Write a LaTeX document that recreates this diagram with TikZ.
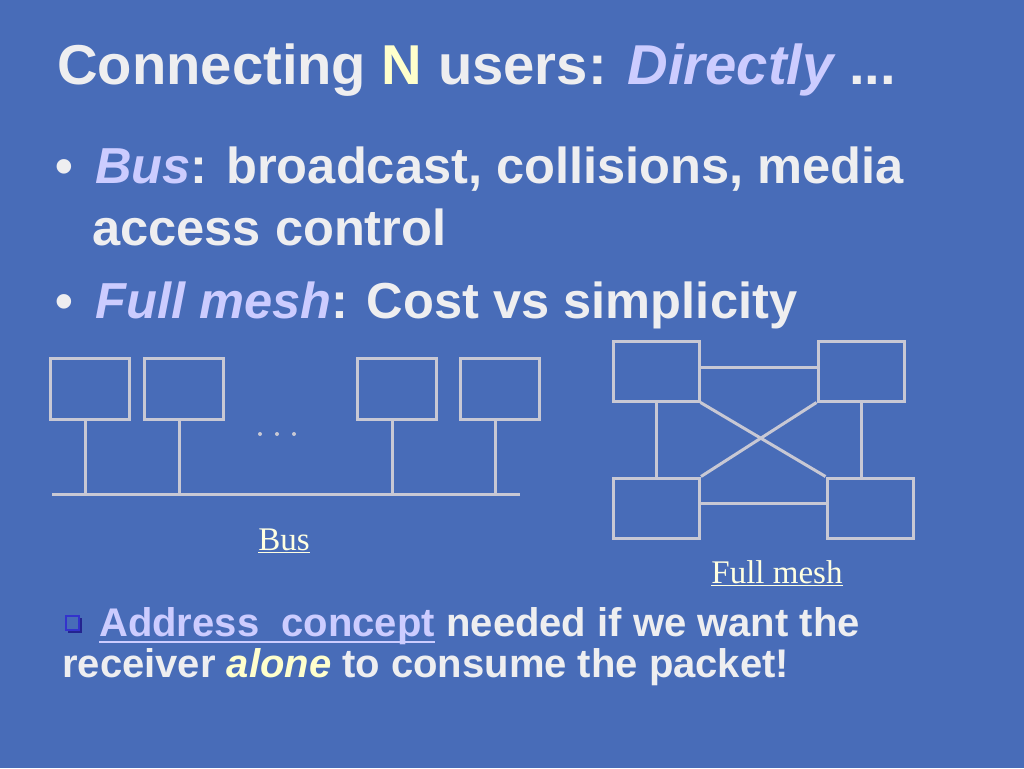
\documentclass[tikz,border=0pt]{standalone}
\usepackage{fontspec}
\setmainfont{Liberation Sans}
\newfontfamily\labelfont{Liberation Serif}
\usetikzlibrary{positioning}
\definecolor{slideblue}{RGB}{72,108,184}
\definecolor{inkwhite}{RGB}{238,238,240}
\definecolor{lavender}{RGB}{204,204,255}
\definecolor{paleyellow}{RGB}{255,255,204}
\definecolor{cream}{RGB}{255,255,225}
\definecolor{wire}{RGB}{200,200,212}
\definecolor{squareblue}{RGB}{51,51,204}
\tikzset{unit/.style = {draw=wire, line width=3, minimum width=79, minimum height=61, inner sep=0}}
\tikzset{meshunit/.style = {unit, minimum width=86, minimum height=60}}
\tikzset{link/.style = {draw=wire, line width=3}}
\tikzset{txt/.style = {anchor=base west, inner sep=0, text=inkwhite, font=\bfseries}}
\tikzset{caption/.style = {anchor=base, inner sep=0, text=cream, font=\labelfont\fontsize{33}{40}\selectfont}}

\begin{document}
\begin{tikzpicture}[x=1pt, y=-1pt]
        \fill [slideblue] (0,0) rectangle (1024,768);
        \useasboundingbox (0,0) rectangle (1024,768);
        % title and bullets
        \node [txt, font=\bfseries\fontsize{56.2}{66}\selectfont] (title) at (57,84)
            {Connecting \textcolor{paleyellow}{N} users: \textcolor{lavender}{\itshape Directly} ...};
        \node [txt, font=\bfseries\fontsize{50.6}{60}\selectfont] (dotA) at (55,183) {•};
        \node [txt, font=\bfseries\fontsize{50.6}{60}\selectfont] (busline) at (95,183)
            {\textcolor{lavender}{\itshape Bus}: broadcast, collisions, media};
        \node [txt, font=\bfseries\fontsize{50.6}{60}\selectfont] (busmore) at (92,245) {access control};
        \node [txt, font=\bfseries\fontsize{50.6}{60}\selectfont] (dotB) at (55,318) {•};
        \node [txt, font=\bfseries\fontsize{50.6}{60}\selectfont] (meshline) at (95,318)
            {\textcolor{lavender}{\itshape Full mesh}: Cost vs simplicity};
        % bus
        \node [unit] (u1) at (89.5,388.5) {};
        \node [unit] (u2) at (183.5,388.5) {};
        \node [unit] (u3) at (397,388.5) {};
        \node [unit] (u4) at (499.5,388.5) {};
        \coordinate (busW) at (52,494);
        \coordinate (busE) at (520,494);
        \draw [link] (busW) -- (busE);
        \foreach \u in {u1,u2,u3,u4}
            \draw [link] ([xshift=-4.5]\u.south) -- ([xshift=-4.5]\u.south |- busW);
        \foreach \x in {260,277,294}
            \fill [wire] (\x,434) circle [radius=2];
        \node [caption] (buslabel) at (284,550) {\underline{Bus}};
        % full mesh
        \node [meshunit] (tl) at (656,371) {};
        \node [meshunit] (tr) at (861,371) {};
        \node [meshunit] (bl) at (656.5,508) {};
        \node [meshunit] (br) at (870,508) {};
        \draw [link] ([yshift=4]tl.east) -- ([yshift=4]tl.east -| tr.west);
        \draw [link] ([yshift=5]bl.east) -- ([yshift=5]bl.east -| br.west);
        \draw [link] (tl.south) -- (tl.south |- bl.north);
        \draw [link] (tr.south) -- (tr.south |- br.north);
        \draw [link] (tl.south east) -- (br.north west);
        \draw [link] (tr.south west) -- (bl.north east);
        \node [caption] (meshlabel) at (777,583) {\underline{Full mesh}};
        % address note
        \fill [squareblue!70!black] (68,618) rectangle (82,633);
        \filldraw [draw=squareblue, fill=slideblue, line width=2] (66,616) rectangle (79,630);
        \node [txt, font=\bfseries\fontsize{40}{48}\selectfont, text=lavender] (addr) at (99,636)
            {Address\ \ concept};
        \draw [lavender, line width=2] ([yshift=-6]addr.base west) -- ([yshift=-6]addr.base east);
        \node [txt, font=\bfseries\fontsize{40}{48}\selectfont] (note) at (addr.base east)
            {\ needed if we want the};
        \node [txt, font=\bfseries\fontsize{40}{48}\selectfont] (notemore) at (62,677)
            {receiver \textcolor{paleyellow}{\itshape alone} to consume the packet!};
    \end{tikzpicture}
\end{document}
